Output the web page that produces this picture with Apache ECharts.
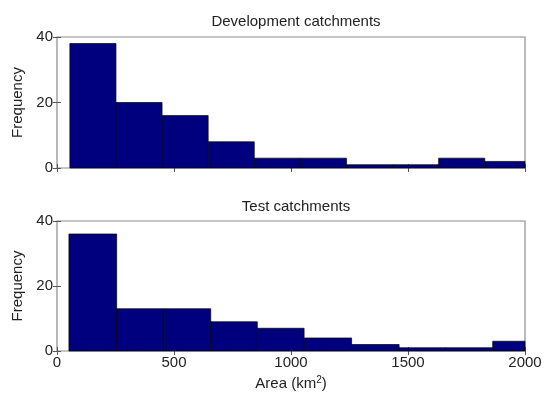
<!DOCTYPE html>
<html>
<head>
<meta charset="utf-8">
<script src="https://cdn.jsdelivr.net/npm/echarts@6/dist/echarts.min.js"></script>
<style>html,body{margin:0;padding:0;background:#fff}#c{width:549px;height:394px}</style>
</head>
<body>
<div id="c"></div>
<script>
// Bin edges (km^2)
var devEdges = [55, 252, 449, 646, 843, 1040, 1237, 1434, 1631, 1828, 2025];
var devCounts = [38, 20, 16, 8, 3, 3, 1, 1, 3, 2];
var testEdges = [51, 255, 458, 657, 856, 1056, 1259, 1462, 1661, 1862, 2063];
var testCounts = [36, 13, 13, 9, 7, 4, 2, 1, 1, 3];
var xTicks = [0, 500, 1000, 1500, 2000];
var yTicks = [0, 20, 40];
var titles = ['Development catchments', 'Test catchments'];

function toData(edges, counts) {
  var d = [];
  for (var i = 0; i < counts.length; i++) d.push([edges[i], edges[i + 1], counts[i]]);
  return d;
}

function renderItem(params, api) {
  var cs = params.coordSys;
  var p0 = api.coord([api.value(0), api.value(2)]);
  var p1 = api.coord([api.value(1), 0]);
  var x0 = Math.max(p0[0], cs.x);
  var x1 = Math.min(p1[0], cs.x + cs.width);
  return {
    type: 'rect',
    shape: { x: x0, y: p0[1], width: x1 - x0, height: p1[1] - p0[1] },
    style: { fill: '#00007f', stroke: '#000', lineWidth: 0.7 }
  };
}

var axisColor = '#8c8c8c';
var font = 'Liberation Sans, Arial, sans-serif';
var grids = [
  { left: 57, right: 24, top: 37, height: 131, show: true, borderColor: axisColor, borderWidth: 1.2 },
  { left: 57, right: 24, top: 221, height: 130, show: true, borderColor: axisColor, borderWidth: 1.2 }
];
var xAxes = [], yAxes = [], series = [];
[0, 1].forEach(function (g) {
  var base = {
    type: 'value', gridIndex: g, min: xTicks[0], max: xTicks[xTicks.length - 1], interval: 500,
    splitLine: { show: false },
    axisLine: { show: false },
    axisTick: { show: true, inside: true, length: 4, lineStyle: { color: '#555' } }
  };
  xAxes.push(Object.assign({}, base, {
    position: 'bottom',
    axisLabel: { show: g === 1, color: '#222', fontSize: 15, fontFamily: font, margin: 4,
      formatter: function (v) { return xTicks.indexOf(v) >= 0 ? String(v) : ''; } },
    name: g === 1 ? 'Area (km{sup|2})' : '',
    nameLocation: 'middle', nameGap: 24,
    nameTextStyle: { color: '#222', fontSize: 15, fontFamily: font,
      rich: { sup: { fontSize: 10, verticalAlign: 'top', padding: [0, 0, 8, 0], color: '#222', fontFamily: font } } }
  }));
  xAxes.push(Object.assign({}, base, { position: 'top', axisLabel: { show: false } }));
  var ybase = {
    type: 'value', gridIndex: g, min: yTicks[0], max: yTicks[yTicks.length - 1], interval: 20,
    splitLine: { show: false }, axisLine: { show: false },
    axisTick: { show: true, inside: true, length: 4, lineStyle: { color: '#555' } }
  };
  yAxes.push(Object.assign({}, ybase, {
    position: 'left',
    axisLabel: { color: '#222', fontSize: 15, fontFamily: font, margin: 4 },
    name: 'Frequency', nameLocation: 'middle', nameGap: 26, nameRotate: 90,
    nameTextStyle: { color: '#222', fontSize: 15, fontFamily: font }
  }));
  yAxes.push(Object.assign({}, ybase, { position: 'right', axisLabel: { show: false } }));
  series.push({
    type: 'custom', xAxisIndex: g * 2, yAxisIndex: g * 2,
    renderItem: renderItem, encode: { x: [0, 1], y: 2 },
    data: g === 0 ? toData(devEdges, devCounts) : toData(testEdges, testCounts)
  });
});

var chart = echarts.init(document.getElementById('c'), null, { renderer: 'canvas' });
chart.setOption({
  animation: false,
  backgroundColor: '#fff',
  title: [
    { text: titles[0], left: 291, top: 9, textAlign: 'center',
      textStyle: { fontSize: 15, fontWeight: 'normal', color: '#222', fontFamily: font } },
    { text: titles[1], left: 291, top: 194, textAlign: 'center',
      textStyle: { fontSize: 15, fontWeight: 'normal', color: '#222', fontFamily: font } }
  ],
  grid: grids,
  xAxis: xAxes,
  yAxis: yAxes,
  series: series
});
</script>
</body>
</html>
